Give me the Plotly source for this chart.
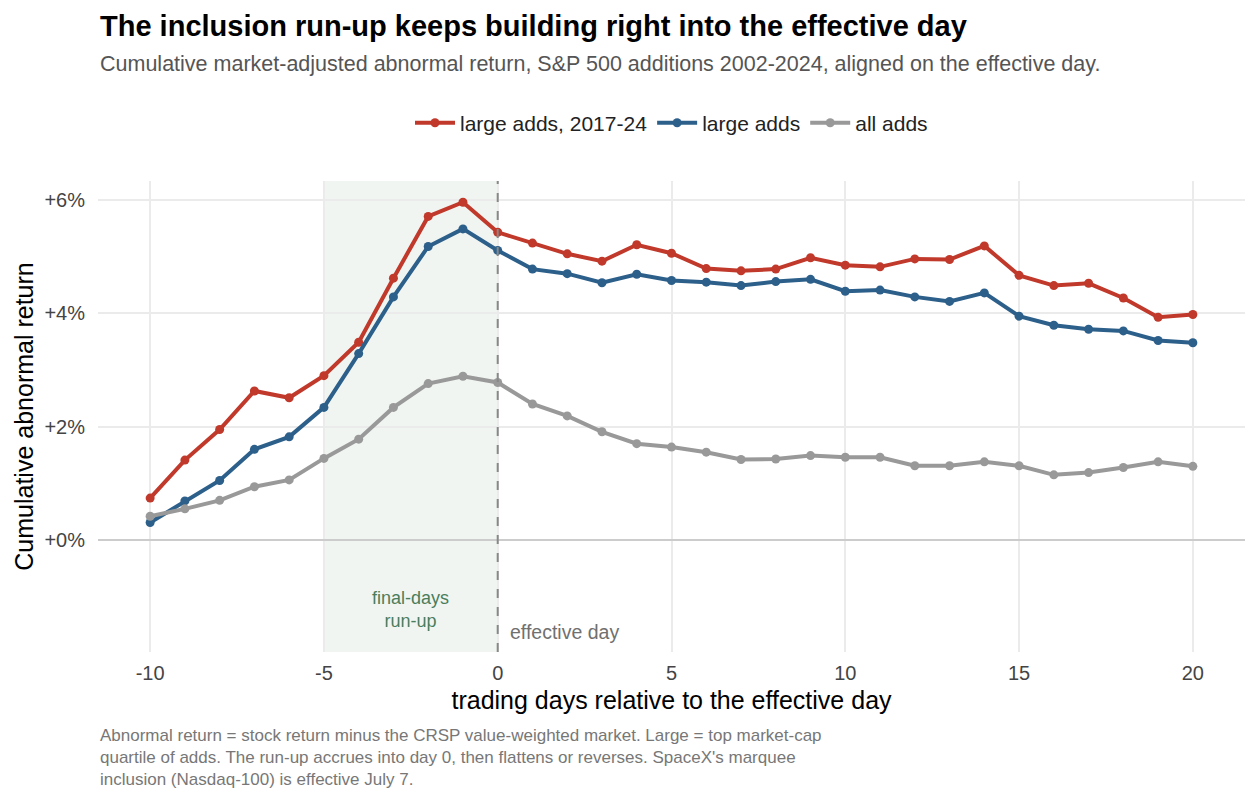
import plotly.graph_objects as go

days = list(range(-10, 21))
large_recent = [0.74, 1.41, 1.95, 2.63, 2.51, 2.90, 3.49, 4.62, 5.71, 5.96,
                5.43, 5.24, 5.05, 4.92, 5.21, 5.06, 4.79, 4.75, 4.78, 4.98,
                4.85, 4.82, 4.96, 4.95, 5.19, 4.67, 4.49, 4.53, 4.27, 3.93, 3.98]
large_all = [0.31, 0.69, 1.05, 1.60, 1.82, 2.34, 3.29, 4.29, 5.18, 5.49,
             5.11, 4.78, 4.70, 4.54, 4.69, 4.58, 4.55, 4.49, 4.56, 4.60,
             4.39, 4.41, 4.29, 4.21, 4.36, 3.95, 3.79, 3.72, 3.69, 3.52, 3.48]
all_adds = [0.42, 0.55, 0.70, 0.94, 1.06, 1.44, 1.78, 2.34, 2.76, 2.89,
            2.78, 2.40, 2.19, 1.91, 1.70, 1.64, 1.55, 1.42, 1.43, 1.49,
            1.46, 1.46, 1.31, 1.31, 1.38, 1.31, 1.15, 1.19, 1.28, 1.38, 1.30]
series_names = ["large adds, 2017-24", "large adds", "all adds"]
series_colors = ["#C0392B", "#2C5F8A", "#999999"]
x_ticks = [-10, -5, 0, 5, 10, 15, 20]
x_tick_labels = ["-10", "-5", "0", "5", "10", "15", "20"]
y_ticks = [0, 2, 4, 6]
y_tick_labels = ["+0%", "+2%", "+4%", "+6%"]

FONT = "Liberation Sans, Arial, sans-serif"

fig = go.Figure()
for name, vals, col in zip(series_names, [large_recent, large_all, all_adds], series_colors):
    fig.add_trace(go.Scatter(
        x=days, y=vals, name=name, mode="lines+markers",
        line=dict(color=col, width=4),
        marker=dict(color=col, size=9),
    ))

fig.add_shape(type="rect", xref="x", yref="paper", x0=-5, x1=0, y0=0, y1=1,
              fillcolor="#F0F5F1", line=dict(width=0), layer="below")
fig.add_shape(type="line", xref="x", yref="paper", x0=0, x1=0, y0=0, y1=1,
              line=dict(color="#888888", width=2, dash="dash"), layer="above")

fig.add_annotation(x=-2.5, y=-1.22, xref="x", yref="y", text="final-days<br>run-up",
                   showarrow=False, font=dict(family=FONT, size=18, color="#4A7D5C"),
                   xanchor="center", yanchor="middle")
fig.add_annotation(x=0.3, y=-1.62, xref="x", yref="y", text="effective day",
                   showarrow=False, font=dict(family=FONT, size=19.5, color="#707070"),
                   xanchor="left", yanchor="middle")

fig.add_annotation(x=0, y=1.33, xref="paper", yref="paper",
                   text="<b>The inclusion run-up keeps building right into the effective day</b>",
                   showarrow=False, font=dict(family=FONT, size=29, color="#000000"),
                   xanchor="left", yanchor="middle")
fig.add_annotation(x=0, y=1.248, xref="paper", yref="paper",
                   text="Cumulative market-adjusted abnormal return, S&P 500 additions 2002-2024, aligned on the effective day.",
                   showarrow=False, font=dict(family=FONT, size=21.5, color="#555555"),
                   xanchor="left", yanchor="middle")
fig.add_annotation(x=0, y=-0.223, xref="paper", yref="paper",
                   text=("Abnormal return = stock return minus the CRSP value-weighted market. Large = top market-cap<br>"
                         "quartile of adds. The run-up accrues into day 0, then flattens or reverses. SpaceX's marquee<br>"
                         "inclusion (Nasdaq-100) is effective July 7."),
                   showarrow=False, align="left", font=dict(family=FONT, size=17, color="#777777"),
                   xanchor="left", yanchor="middle")

fig.update_layout(
    width=1258, height=799,
    margin=dict(l=98, r=13, t=181, b=147),
    paper_bgcolor="white", plot_bgcolor="white",
    font=dict(family=FONT, color="#444444"),
    showlegend=True,
    legend=dict(orientation="h", x=0.5, y=1.123, xanchor="center", yanchor="middle",
                font=dict(family=FONT, size=21, color="#222222"), itemwidth=40,
                bgcolor="rgba(0,0,0,0)"),
    xaxis=dict(range=[-11.5, 21.5], tickvals=x_ticks, ticktext=x_tick_labels,
               showgrid=True, gridcolor="#EBEBEB",
               gridwidth=1.5, zeroline=False, showline=False,
               ticks="outside", ticklen=3, tickcolor="rgba(0,0,0,0)",
               tickfont=dict(family=FONT, size=20, color="#444444"),
               title=dict(text="trading days relative to the effective day",
                          font=dict(family=FONT, size=25, color="#000000"), standoff=8)),
    yaxis=dict(range=[-1.976, 6.335], tickvals=y_ticks, ticktext=y_tick_labels,
               showgrid=True, gridcolor="#EBEBEB", gridwidth=1.5,
               zeroline=True, zerolinecolor="#CCCCCC", zerolinewidth=1.5,
               showline=False, ticks="outside", ticklen=8, tickcolor="rgba(0,0,0,0)",
               tickfont=dict(family=FONT, size=20, color="#444444"),
               title=dict(text="Cumulative abnormal return",
                          font=dict(family=FONT, size=25, color="#000000"), standoff=3)),
)

fig.write_html("out.html")
